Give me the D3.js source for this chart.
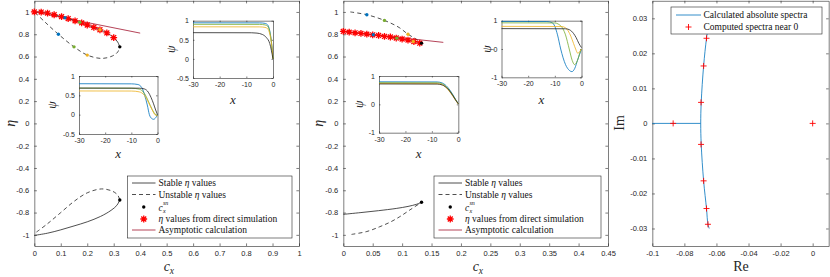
<!DOCTYPE html>
<html>
<head>
<meta charset="utf-8">
<script src="https://cdn.jsdelivr.net/npm/d3@7"></script>
<style>
  body { margin: 0; background: #fff; }
  svg { display: block; }
</style>
</head>
<body>
<script>
// ---------------- data ----------------
// panel 1 (left) : eta vs c_x
const p1StableTop = [[0,1],[0.026,0.999],[0.05,0.99],[0.075,0.975],[0.103,0.958],[0.128,0.94],[0.154,0.92],[0.179,0.902],[0.2,0.883],[0.225,0.862],[0.248,0.84],[0.274,0.812],[0.3,0.77],[0.315,0.73],[0.323,0.687]];
const p1UnstableTop = [[0.003,0.995],[0.04,0.91],[0.091,0.8],[0.15,0.687],[0.2,0.613],[0.254,0.583],[0.295,0.605],[0.315,0.64],[0.323,0.687]];
const p1StableBot = [[0,-1.005],[0.05,-0.985],[0.1,-0.955],[0.15,-0.92],[0.2,-0.883],[0.25,-0.835],[0.29,-0.78],[0.312,-0.735],[0.323,-0.687]];
const p1UnstableBot = [[0.008,-0.975],[0.05,-0.9],[0.1,-0.8],[0.15,-0.7],[0.2,-0.623],[0.254,-0.588],[0.295,-0.608],[0.315,-0.643],[0.323,-0.687]];
const p1Sim = [[0,1],[0.026,0.999],[0.05,0.99],[0.075,0.975],[0.103,0.958],[0.128,0.94],[0.154,0.92],[0.179,0.902],[0.2,0.883],[0.225,0.862],[0.248,0.84],[0.274,0.812],[0.3,0.77]];
const p1Asym = [[0,1],[0.4,0.81]];
const p1Fold = [[0.323,0.687],[0.323,-0.687]];
const p1DotsStable = [[0.116,0.948],[0.172,0.907],[0.248,0.84]];
const p1DotsUnstable = [[0.091,0.8],[0.15,0.687],[0.2,0.613]];

// panel 2 (middle)
const p2StableTop = [[0,0.825],[0.02,0.813],[0.04,0.801],[0.06,0.789],[0.08,0.775],[0.1,0.757],[0.115,0.742],[0.125,0.73],[0.133,0.72]];
const p2UnstableTop = [[0.012,1.0],[0.04,0.975],[0.07,0.924],[0.095,0.86],[0.11,0.8],[0.125,0.752],[0.133,0.72]];
const p2StableBot = [[0,-0.816],[0.03,-0.8],[0.06,-0.783],[0.09,-0.763],[0.11,-0.745],[0.125,-0.725],[0.133,-0.708]];
const p2UnstableBot = [[0.014,-0.996],[0.04,-0.97],[0.062,-0.927],[0.08,-0.885],[0.096,-0.837],[0.115,-0.77],[0.133,-0.708]];
const p2Sim = [[0,0.825],[0.01,0.819],[0.02,0.813],[0.03,0.807],[0.04,0.801],[0.05,0.795],[0.06,0.789],[0.07,0.78],[0.08,0.775],[0.09,0.766],[0.1,0.757],[0.11,0.748],[0.12,0.735],[0.13,0.72]];
const p2Asym = [[0,0.825],[0.17,0.727]];
const p2Fold = [[0.133,0.72],[0.133,-0.708]];
const p2DotsStable = [[0.051,0.795],[0.091,0.765],[0.119,0.735]];
const p2DotsUnstable = [[0.04,0.975],[0.07,0.924],[0.11,0.8]];

// insets: psi(x) profiles, order blue, green, yellow, black
const in1Blue = [[-30,0.945],[-5,0.943],[-3,0.93],[-2,0.89],[-1.2,0.73],[-0.6,0.45],[0,0]];
const in1Green = [[-30,0.905],[-5,0.903],[-3,0.89],[-2,0.855],[-1.2,0.7],[-0.6,0.44],[0,0]];
const in1Yellow = [[-30,0.84],[-5,0.838],[-3,0.825],[-2,0.79],[-1.2,0.65],[-0.6,0.42],[0,0]];
const in1Black = [[-30,0.687],[-8,0.684],[-6,0.675],[-4,0.64],[-2.5,0.56],[-1.2,0.4],[0,0]];

const in2Blue = [[-30,0.8],[-10,0.797],[-7.5,0.78],[-6,0.7],[-4.9,0.5],[-3.9,0.25],[-3.1,0],[-2.2,-0.1],[-1.5,-0.12],[-0.7,-0.08],[0,0]];
const in2Green = [[-30,0.687],[-10,0.685],[-7,0.66],[-5,0.55],[-3.5,0.35],[-2,0.13],[-1,0.02],[0,-0.02]];
const in2Yellow = [[-30,0.613],[-10,0.611],[-7,0.59],[-5,0.5],[-3.5,0.32],[-2,0.12],[-1,0],[0,-0.03]];
const in2Black = [[-30,0.687],[-7,0.685],[-5,0.665],[-3.5,0.58],[-2.5,0.45],[-1.5,0.28],[-0.7,0.12],[0,0]];

const in3Blue = [[-30,0.795],[-8,0.79],[-6,0.75],[-4,0.6],[-2,0.33],[-1,0.17],[0,0.02]];
const in3Green = [[-30,0.765],[-8,0.76],[-6,0.72],[-4,0.57],[-2,0.31],[-1,0.16],[0,0.02]];
const in3Yellow = [[-30,0.735],[-8,0.73],[-6,0.685],[-4,0.53],[-2,0.28],[-1,0.14],[0,0.01]];
const in3Black = [[-30,0.72],[-8,0.716],[-6,0.68],[-4,0.55],[-2,0.3],[-1,0.15],[0,0.02]];

const in4Blue = [[-30,0.975],[-13,0.97],[-11,0.93],[-10,0.8],[-9,0.5],[-7.8,0],[-6,-0.55],[-4.5,-0.76],[-3.6,-0.8],[-2.5,-0.68],[-1.5,-0.4],[0,0]];
const in4Green = [[-30,0.924],[-10,0.92],[-8.5,0.87],[-7,0.72],[-6,0.5],[-4.6,0],[-3.5,-0.4],[-2.6,-0.55],[-1.5,-0.4],[-0.5,-0.1],[0,0]];
const in4Yellow = [[-30,0.8],[-7.5,0.795],[-6,0.75],[-5,0.64],[-4,0.45],[-3,0.2],[-2.2,0],[-1.4,-0.15],[-0.6,-0.08],[0,0]];
const in4Black = [[-30,0.72],[-6,0.715],[-4.5,0.68],[-3,0.55],[-2,0.4],[-1,0.2],[0,0.05]];

// panel 3 (right): spectra
const specBranch = [[-0.1,0],[-0.0698,0]];
const specCurve = [[-0.0644,0.03],[-0.0662,0.0243],[-0.068,0.0164],[-0.0695,0.006],[-0.0698,0],[-0.0695,-0.006],[-0.068,-0.0164],[-0.0662,-0.0243],[-0.0653,-0.0288],[-0.0645,-0.03]];
const specComputed = [[-0.087,0],[0,0],[-0.0696,0.006],[-0.0696,-0.006],[-0.068,0.0164],[-0.068,-0.0164],[-0.0662,0.0243],[-0.0662,-0.0243],[-0.0653,0.0288],[-0.0653,-0.0288]];

// ticks
const p1XTicks = [0,0.1,0.2,0.3,0.4,0.5,0.6,0.7,0.8,0.9,1];
const p2XTicks = [0,0.05,0.1,0.15,0.2,0.25,0.3,0.35,0.4,0.45];
const etaTicks = [-1,-0.8,-0.6,-0.4,-0.2,0,0.2,0.4,0.6,0.8,1];
const reTicks = [-0.1,-0.08,-0.06,-0.04,-0.02,0];
const imTicks = [-0.03,-0.02,-0.01,0,0.01,0.02,0.03];
const insetXTicks = [-30,-20,-10,0];
const insetYTicksA = [-0.5,0,0.5,1];
const insetYTicksB = [-1,0,1];

const BLUE = "#0072bd", GREEN = "#77ac30", YELLOW = "#edb120", DARKRED = "#a2142f";
const AX = "#262626";
const SANS = "'Liberation Sans', Arial, sans-serif";
const SERIF = "'Liberation Serif', 'Times New Roman', serif";

// ---------------- setup ----------------
const svg = d3.select("body").append("svg").attr("width", 830).attr("height", 277);

function drawAxes(g, xs, ys, xt, yt, tick, fs, pad) {
  const [x0, x1] = xs.range(), [y0, y1] = ys.range();
  g.append("rect").attr("x", x0).attr("y", y1).attr("width", x1 - x0).attr("height", y0 - y1).attr("fill", "#fff");
  const fmt = d => String(+d.toFixed(4));
  g.append("g").attr("transform", "translate(0," + y0 + ")")
    .call(d3.axisBottom(xs).tickValues(xt).tickFormat(fmt).tickSizeInner(-tick).tickSizeOuter(0).tickPadding(pad));
  g.append("g").attr("transform", "translate(0," + y1 + ")")
    .call(d3.axisTop(xs).tickValues(xt).tickFormat("").tickSizeInner(-tick).tickSizeOuter(0));
  g.append("g").attr("transform", "translate(" + x0 + ",0)")
    .call(d3.axisLeft(ys).tickValues(yt).tickFormat(fmt).tickSizeInner(-tick).tickSizeOuter(0).tickPadding(pad));
  g.append("g").attr("transform", "translate(" + x1 + ",0)")
    .call(d3.axisRight(ys).tickValues(yt).tickFormat("").tickSizeInner(-tick).tickSizeOuter(0));
  g.selectAll(".domain, .tick line").attr("stroke", AX).attr("stroke-width", 0.6);
  g.selectAll(".tick text").attr("fill", AX).style("font-size", fs + "px").style("font-family", SANS);
}

function curve(g, data, xs, ys, color, dash, w) {
  g.append("path").datum(data)
    .attr("d", d3.line().x(d => xs(d[0])).y(d => ys(d[1])).curve(d3.curveCatmullRom.alpha(0.5)))
    .attr("fill", "none").attr("stroke", color).attr("stroke-width", w || 0.8)
    .attr("stroke-dasharray", dash || null);
}

function starPath(r) {
  const d = r * 0.72;
  return `M${-r},0L${r},0M0,${-r}L0,${r}M${-d},${-d}L${d},${d}M${-d},${d}L${d},${-d}`;
}

function stars(g, data, xs, ys) {
  g.selectAll(null).data(data).join("path")
    .attr("transform", d => "translate(" + xs(d[0]) + "," + ys(d[1]) + ")")
    .attr("d", starPath(3.4)).attr("stroke", "#ff0000").attr("stroke-width", 1.3).attr("fill", "none");
}

function dots(g, data, xs, ys, colors) {
  g.selectAll(null).data(data).join("circle")
    .attr("cx", d => xs(d[0])).attr("cy", d => ys(d[1])).attr("r", 1.7)
    .attr("fill", (d, i) => colors[i]);
}

function insetLabels(g, xs, ys, px, lx, ly) {
  const [x0, x1] = xs.range(), [y0, y1] = ys.range();
  g.append("text").attr("transform", "translate(" + px + "," + ((y0 + y1) / 2) + ") rotate(-90)")
    .attr("text-anchor", "middle").attr("dy", "0.35em")
    .style("font-family", SERIF).style("font-style", "italic").style("font-size", "12px").attr("fill", AX).text("ψ");
  g.append("text").attr("x", (x0 + x1) / 2).attr("y", ly)
    .attr("text-anchor", "middle")
    .style("font-family", SERIF).style("font-style", "italic").style("font-size", "13px").attr("fill", AX).text("x");
}

function inset(xr, yr, ydom, yt, curves, px, ly) {
  const g = svg.append("g");
  const xs = d3.scaleLinear([-30, 0], xr);
  const ys = d3.scaleLinear(ydom, yr);
  drawAxes(g, xs, ys, insetXTicks, yt, 1.5, 7, 4);
  const cols = [BLUE, GREEN, YELLOW, "#222"];
  curves.forEach((c, i) => {
    g.append("path").datum(c)
      .attr("d", d3.line().x(d => xs(d[0])).y(d => ys(d[1])).curve(d3.curveMonotoneX))
      .attr("fill", "none").attr("stroke", cols[i]).attr("stroke-width", 0.8);
  });
  insetLabels(g, xs, ys, px, 0, ly);
}

function legend(x0, y0, w) {
  const g = svg.append("g");
  g.append("rect").attr("x", x0).attr("y", y0).attr("width", w).attr("height", 62)
    .attr("fill", "#fff").attr("stroke", AX).attr("stroke-width", 0.6);
  const lx0 = x0 + 4.5, lx1 = x0 + 28, tx = x0 + 31, mx = (lx0 + lx1) / 2;
  const rows = [y0 + 7, y0 + 18.5, y0 + 31, y0 + 43, y0 + 54];
  g.append("line").attr("x1", lx0).attr("x2", lx1).attr("y1", rows[0]).attr("y2", rows[0]).attr("stroke", "#222").attr("stroke-width", 0.8);
  g.append("line").attr("x1", lx0).attr("x2", lx1).attr("y1", rows[1]).attr("y2", rows[1]).attr("stroke", "#222").attr("stroke-width", 0.8).attr("stroke-dasharray", "4,3");
  g.append("circle").attr("cx", mx).attr("cy", rows[2]).attr("r", 1.7).attr("fill", "#000");
  g.append("path").attr("transform", "translate(" + mx + "," + rows[3] + ")").attr("d", starPath(3.4)).attr("stroke", "#ff0000").attr("stroke-width", 1.3);
  g.append("line").attr("x1", lx0).attr("x2", lx1).attr("y1", rows[4]).attr("y2", rows[4]).attr("stroke", DARKRED).attr("stroke-width", 0.8);
  const txt = (y) => g.append("text").attr("x", tx).attr("y", y).attr("dy", "0.33em")
    .style("font-family", SERIF).style("font-size", "9.5px").attr("fill", "#111");
  let t = txt(rows[0]); t.append("tspan").text("Stable "); t.append("tspan").style("font-style", "italic").text("η"); t.append("tspan").text(" values");
  t = txt(rows[1]); t.append("tspan").text("Unstable "); t.append("tspan").style("font-style", "italic").text("η"); t.append("tspan").text(" values");
  // c_x^sn
  g.append("text").attr("x", tx).attr("y", rows[2] + 1).attr("dy", "0.33em").style("font-family", SERIF).style("font-style", "italic").style("font-size", "9.5px").attr("fill", "#111").text("c");
  g.append("text").attr("x", tx + 4.4).attr("y", rows[2] - 2.5).style("font-family", SERIF).style("font-style", "italic").style("font-size", "6px").attr("fill", "#111").text("sn");
  g.append("text").attr("x", tx + 4.4).attr("y", rows[2] + 5.5).style("font-family", SERIF).style("font-style", "italic").style("font-size", "6px").attr("fill", "#111").text("x");
  t = txt(rows[3]); t.append("tspan").style("font-style", "italic").text("η"); t.append("tspan").text(" values from direct simulation");
  txt(rows[4]).text("Asymptotic calculation");
}

function mainLabels(g, xs, ys, lx) {
  const [x0, x1] = xs.range(), [y0, y1] = ys.range();
  g.append("text").attr("transform", "translate(" + lx + "," + ((y0 + y1) / 2) + ") rotate(-90)")
    .attr("text-anchor", "middle").attr("dy", "0.35em")
    .style("font-family", SERIF).style("font-style", "italic").style("font-size", "14px").attr("fill", AX).text("η");
  const t = g.append("text").attr("x", (x0 + x1) / 2 - 3).attr("y", 271)
    .style("font-family", SERIF).style("font-style", "italic").style("font-size", "14px").attr("fill", AX);
  t.append("tspan").text("c");
  t.append("tspan").attr("dy", 3).style("font-size", "9.5px").text("x");
}

// ---------------- panel 1 ----------------
const y1 = d3.scaleLinear([-1.1, 1.1], [246, 0.8]);
const x1 = d3.scaleLinear([0, 1], [34.3, 299]);
const g1 = svg.append("g");
drawAxes(g1, x1, y1, p1XTicks, etaTicks, 2.6, 7.5, 5);
curve(g1, p1Asym, x1, y1, DARKRED, null, 0.8);
curve(g1, p1StableTop, x1, y1, "#222");
curve(g1, p1UnstableTop, x1, y1, "#222", "4,3");
curve(g1, p1StableBot, x1, y1, "#222");
curve(g1, p1UnstableBot, x1, y1, "#222", "4,3");
stars(g1, p1Sim, x1, y1);
dots(g1, p1DotsStable, x1, y1, [BLUE, GREEN, YELLOW]);
dots(g1, p1DotsUnstable, x1, y1, [BLUE, GREEN, YELLOW]);
dots(g1, p1Fold, x1, y1, ["#000", "#000"]);
mainLabels(g1, x1, y1, 10);

inset([193, 273], [78, 20.7], [-0.5, 1], insetYTicksA, [in1Blue, in1Green, in1Yellow, in1Black], 171, 104);
inset([79, 157.5], [134, 76], [-0.5, 1], insetYTicksA, [in2Blue, in2Green, in2Yellow, in2Black], 52, 158);
legend(127.5, 176, 164.5);

// ---------------- panel 2 ----------------
const x2 = d3.scaleLinear([0, 0.45], [343.3, 608]);
const g2 = svg.append("g");
drawAxes(g2, x2, y1, p2XTicks, etaTicks, 2.6, 7.5, 5);
curve(g2, p2Asym, x2, y1, DARKRED, null, 0.8);
curve(g2, p2StableTop, x2, y1, "#222");
curve(g2, p2UnstableTop, x2, y1, "#222", "4,3");
curve(g2, p2StableBot, x2, y1, "#222");
curve(g2, p2UnstableBot, x2, y1, "#222", "4,3");
stars(g2, p2Sim, x2, y1);
dots(g2, p2DotsStable, x2, y1, [BLUE, GREEN, YELLOW]);
dots(g2, p2DotsUnstable, x2, y1, [BLUE, GREEN, YELLOW]);
dots(g2, p2Fold, x2, y1, ["#000", "#000"]);
mainLabels(g2, x2, y1, 318);

inset([379, 458.3], [132.7, 76], [-1, 1], insetYTicksB, [in3Blue, in3Green, in3Yellow, in3Black], 359, 158);
inset([501.5, 581.5], [77.3, 20.7], [-1, 1], insetYTicksB, [in4Blue, in4Green, in4Yellow, in4Black], 487, 104);
legend(434, 176, 167);

// ---------------- panel 3 ----------------
const x3 = d3.scaleLinear([-0.1, 0.01], [652.3, 828.7]);
const y3 = d3.scaleLinear([-0.035, 0.035], [246, 0.8]);
const g3 = svg.append("g");
drawAxes(g3, x3, y3, reTicks, imTicks, 2.6, 7.5, 5);
g3.append("path").datum(specBranch)
  .attr("d", d3.line().x(d => x3(d[0])).y(d => y3(d[1])))
  .attr("fill", "none").attr("stroke", BLUE).attr("stroke-width", 0.8);
g3.append("path").datum(specCurve)
  .attr("d", d3.line().x(d => x3(d[0])).y(d => y3(d[1])).curve(d3.curveCatmullRom))
  .attr("fill", "none").attr("stroke", BLUE).attr("stroke-width", 0.8);
g3.selectAll(null).data(specComputed).join("path")
  .attr("transform", d => "translate(" + x3(d[0]) + "," + y3(d[1]) + ")")
  .attr("d", "M-3,0L3,0M0,-3L0,3").attr("stroke", "#ff0000").attr("stroke-width", 0.9);
g3.append("text").attr("x", 741).attr("y", 271).attr("text-anchor", "middle")
  .style("font-family", SERIF).style("font-size", "14px").attr("fill", AX).text("Re");
g3.append("text").attr("transform", "translate(619,123) rotate(-90)").attr("text-anchor", "middle").attr("dy", "0.35em")
  .style("font-family", SERIF).style("font-size", "14px").attr("fill", AX).text("Im");
// legend panel 3
const lg3 = svg.append("g");
lg3.append("rect").attr("x", 671).attr("y", 7).attr("width", 151).attr("height", 27)
  .attr("fill", "#fff").attr("stroke", AX).attr("stroke-width", 0.6);
lg3.append("line").attr("x1", 676).attr("x2", 701).attr("y1", 15).attr("y2", 15).attr("stroke", BLUE).attr("stroke-width", 0.8);
lg3.append("path").attr("transform", "translate(688.5,27)").attr("d", "M-3,0L3,0M0,-3L0,3").attr("stroke", "#ff0000").attr("stroke-width", 0.9);
lg3.append("text").attr("x", 703.5).attr("y", 15).attr("dy", "0.33em").style("font-family", SERIF).style("font-size", "9.5px").attr("fill", "#111").text("Calculated absolute spectra");
lg3.append("text").attr("x", 703.5).attr("y", 27).attr("dy", "0.33em").style("font-family", SERIF).style("font-size", "9.5px").attr("fill", "#111").text("Computed spectra near 0");
</script>
</body>
</html>
